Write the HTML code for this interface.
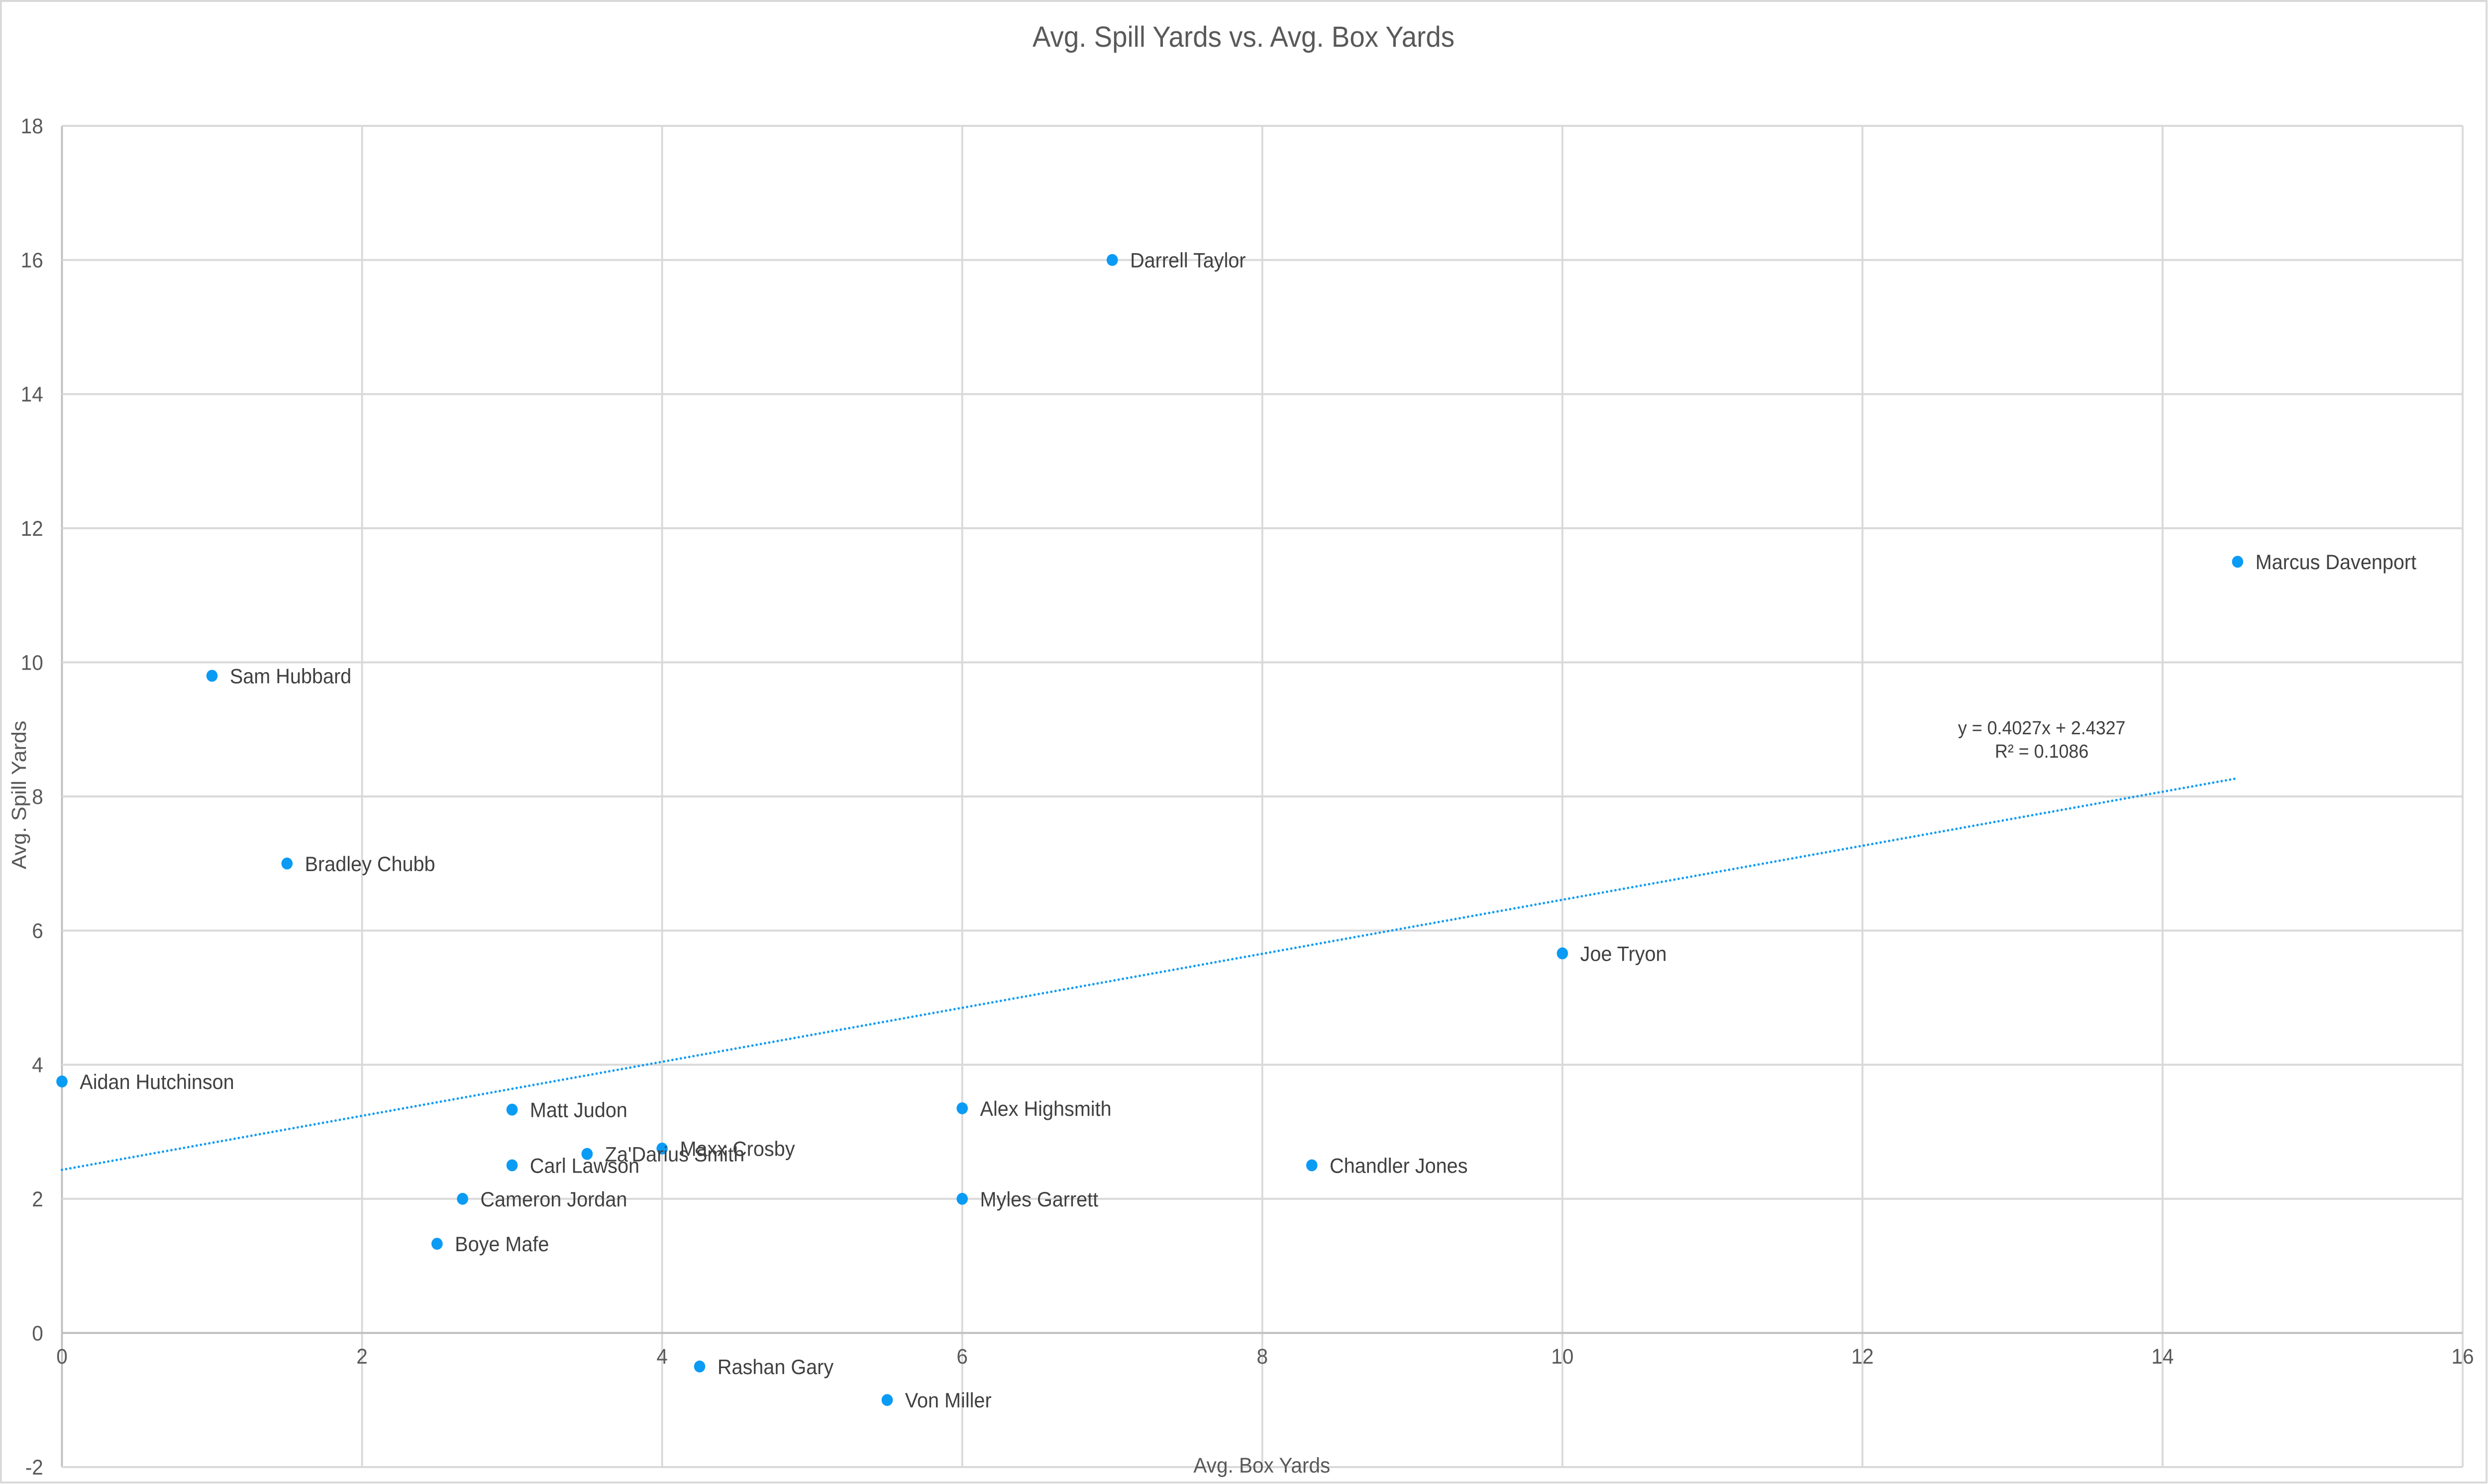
<!DOCTYPE html>
<html><head><meta charset="utf-8"><style>
html,body{margin:0;padding:0;background:#fff;overflow:hidden;width:100%;height:100%}
svg{display:block;width:100vw;height:100vh}
text{font-family:"Liberation Sans",sans-serif}
</style></head><body>
<svg id="chart" viewBox="0 0 5302 2983" preserveAspectRatio="none" xmlns="http://www.w3.org/2000/svg">
<rect x="2" y="2" width="5297" height="2978" fill="#fff" stroke="#d9d9d9" stroke-width="4"/>
<text x="2650" y="94" font-size="58" fill="#595959" text-anchor="middle">Avg. Spill Yards vs. Avg. Box Yards</text>
<g id="grid"></g><g id="ticks"></g><g id="trend"></g><g id="points"></g>
<text x="4351" y="1476" font-size="38" fill="#404040" text-anchor="middle">y = 0.4027x + 2.4327</text>
<text x="4351" y="1523" font-size="38" fill="#404040" text-anchor="middle">R² = 0.1086</text>
<text x="2689" y="2960" font-size="43" fill="#595959" text-anchor="middle">Avg. Box Yards</text>
<text x="0" y="0" font-size="43" fill="#595959" text-anchor="middle" transform="translate(55,1598) rotate(-90)">Avg. Spill Yards</text>
</svg>
<script>
const names = ["Darrell Taylor","Marcus Davenport","Sam Hubbard","Bradley Chubb","Joe Tryon","Aidan Hutchinson","Matt Judon","Alex Highsmith","Maxx Crosby","Za'Darius Smith","Carl Lawson","Chandler Jones","Cameron Jordan","Myles Garrett","Boye Mafe","Rashan Gary","Von Miller"];
const boxYards = [7,14.5,1,1.5,10,0,3,6,4,3.5,3,8.33,2.67,6,2.5,4.25,5.5];
const spillYards = [16,11.5,9.8,7,5.66,3.75,3.33,3.35,2.75,2.67,2.5,2.5,2,2,1.33,-0.5,-1];
const xTicks = [0,2,4,6,8,10,12,14,16];
const yTicks = [-2,0,2,4,6,8,10,12,14,16,18];
const trendSlope = 0.4027;
const trendIntercept = 2.4327;
const trendRange = [0,14.5];

const NS="http://www.w3.org/2000/svg";
const L=132,R=5248,T=253,B=2949,xMin=0,xMax=16,yMin=-2,yMax=18;
const sx=v=>L+(v-xMin)/(xMax-xMin)*(R-L);
const sy=v=>B-(v-yMin)/(yMax-yMin)*(B-T);
function mk(tag,attrs,parent,txt){const e=document.createElementNS(NS,tag);for(const k in attrs)e.setAttribute(k,attrs[k]);if(txt!==undefined)e.textContent=txt;document.getElementById(parent).appendChild(e);return e;}
xTicks.forEach(t=>{
  const g=mk('line',{x1:sx(t),x2:sx(t),y1:T,y2:B,stroke:t===0?'#bfbfbf':'#d9d9d9','stroke-width':4},'grid');
  
  
  const lb=mk('text',{x:sx(t),y:2741,'font-size':43,fill:'#595959','text-anchor':'middle'},'ticks',String(t));
  
  
});
yTicks.forEach(t=>{
  const g=mk('line',{x1:L,x2:R,y1:sy(t),y2:sy(t),stroke:t===0?'#bfbfbf':'#d9d9d9','stroke-width':4},'grid');
  
  
  const lb=mk('text',{x:92,y:sy(t)+15,'font-size':43,fill:'#595959','text-anchor':'end'},'ticks',String(t));
  
  
});
const tl=mk('line',{x1:sx(trendRange[0]),y1:sy(trendIntercept+trendSlope*trendRange[0]),x2:sx(trendRange[1]),y2:sy(trendIntercept+trendSlope*trendRange[1]),stroke:'#0a9bf5','stroke-width':5,'stroke-dasharray':'0.1 9','stroke-linecap':'round'},'trend');


names.forEach((n,i)=>{
  const c=mk('circle',{cx:sx(boxYards[i]),cy:sy(spillYards[i]),r:12,fill:'#0a9bf5'},'points');
  
  
  const t=mk('text',{x:sx(boxYards[i])+38,y:sy(spillYards[i])+15,'font-size':42,fill:'#404040'},'points',n);
  
  
});
</script>
</body></html>
